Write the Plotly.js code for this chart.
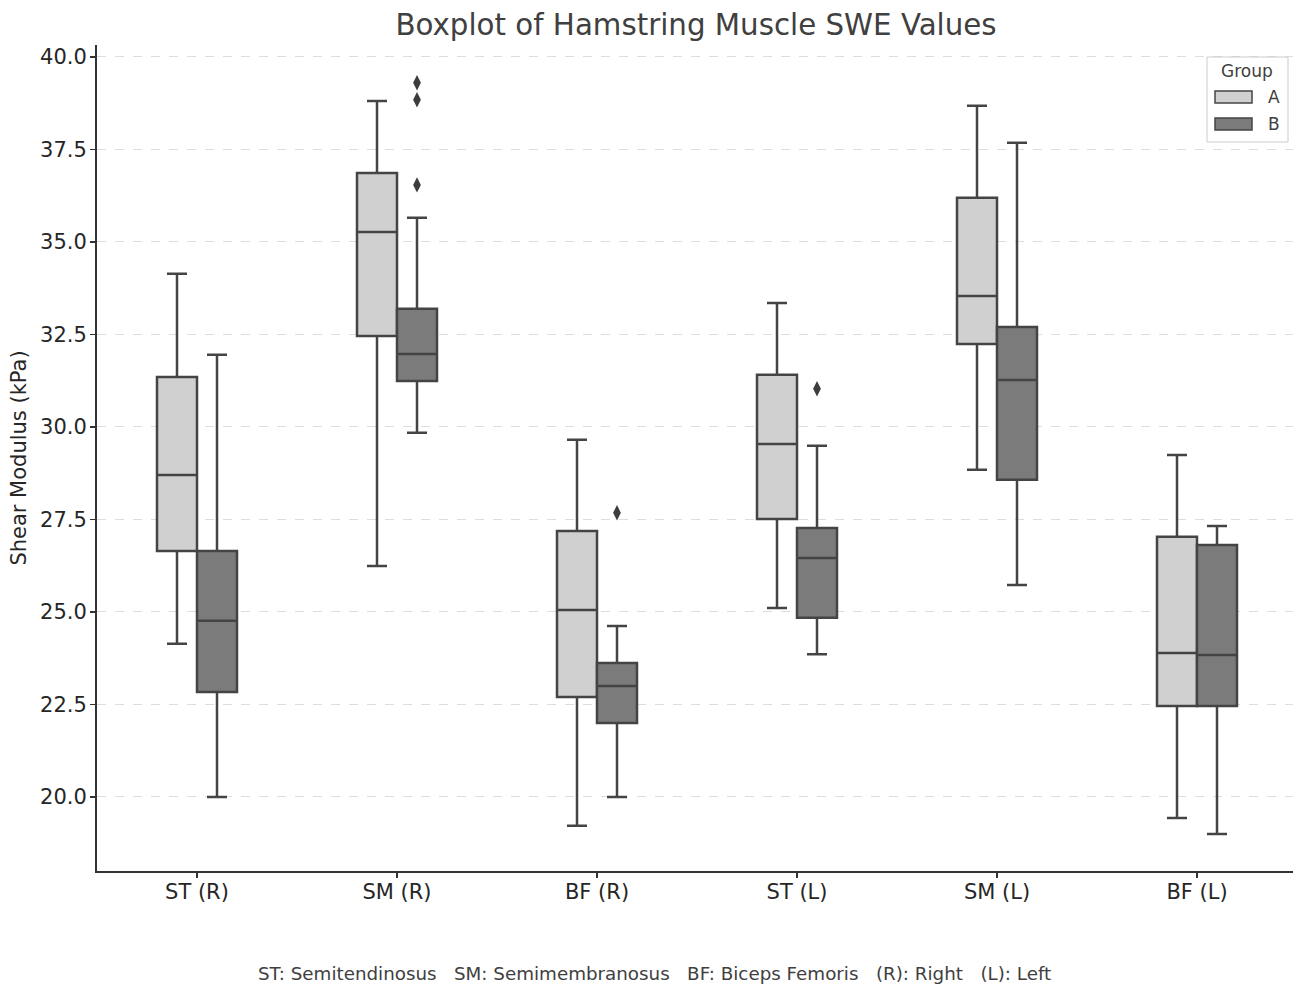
<!DOCTYPE html>
<html>
<head>
<meta charset="utf-8">
<script src="https://cdn.plot.ly/plotly-3.0.1.min.js"></script>
<style>html,body{margin:0;padding:0;background:#fff;}#chart{width:1293px;height:984px;}</style>
</head>
<body>
<div id="chart"></div>
<script>
const categories = ["ST (R)", "SM (R)", "BF (R)", "ST (L)", "SM (L)", "BF (L)"];
const groups = ["A", "B"];

const groupA_lower  = [24.14, 26.24, 19.22, 25.11, 28.84, 19.43];
const groupA_q1     = [26.65, 32.46, 22.70, 27.51, 32.24, 22.46];
const groupA_median = [28.70, 35.27, 25.05, 29.54, 33.54, 23.89];
const groupA_q3     = [31.35, 36.86, 27.19, 31.41, 36.19, 27.03];
const groupA_upper  = [34.14, 38.81, 29.65, 33.35, 38.68, 29.24];

const groupB_lower  = [20.00, 29.84, 20.00, 23.86, 25.73, 19.00];
const groupB_q1     = [22.84, 31.24, 22.00, 24.84, 28.57, 22.46];
const groupB_median = [24.76, 31.97, 23.00, 26.46, 31.27, 23.84];
const groupB_q3     = [26.65, 33.19, 23.62, 27.27, 32.70, 26.81];
const groupB_upper  = [31.95, 35.65, 24.62, 29.49, 37.68, 27.32];

// outliers of group B: category index and value
const outlierB_cat   = [1, 1, 1, 2, 3];
const outlierB_value = [39.30, 38.84, 36.54, 27.68, 31.03];

const yTicks = [20, 22.5, 25, 27.5, 30, 32.5, 35, 37.5, 40];

const OFFSET = 0.1, BOXW = 0.2;
const idx = categories.map((c, i) => i);
const lineCol = '#444444';
const colA = '#d0d0d0', colB = '#7b7b7b';
const font = 'DejaVu Sans, sans-serif';

const traceA = {
  type: 'box', name: groups[0], showlegend: false,
  x: idx.map(i => i - OFFSET),
  q1: groupA_q1, median: groupA_median, q3: groupA_q3,
  lowerfence: groupA_lower, upperfence: groupA_upper,
  width: BOXW, whiskerwidth: 0.5,
  fillcolor: colA,
  line: {color: lineCol, width: 2.5},
  boxpoints: false, hoverinfo: 'skip'
};
const traceB = {
  type: 'box', name: groups[1], showlegend: false,
  x: idx.map(i => i + OFFSET),
  q1: groupB_q1, median: groupB_median, q3: groupB_q3,
  lowerfence: groupB_lower, upperfence: groupB_upper,
  width: BOXW, whiskerwidth: 0.5,
  fillcolor: colB,
  line: {color: lineCol, width: 2.5},
  boxpoints: false, hoverinfo: 'skip'
};
const outB = {
  type: 'scatter', mode: 'markers', showlegend: false,
  x: outlierB_cat.map(i => i + OFFSET),
  y: outlierB_value,
  marker: {symbol: 'diamond-tall', size: 11, color: '#3d3d3d'},
  hoverinfo: 'skip'
};

// plot area in pixels, used to place the custom legend in paper coordinates
const M = {l: 97, r: 0, t: 45, b: 113};
const W = 1293, H = 984;
const PW = W - M.l - M.r, PH = H - M.t - M.b;
const px = v => (v - M.l) / PW;
const py = v => (H - M.b - v) / PH;

const shapes = [
  {type: 'rect', xref: 'paper', yref: 'paper', x0: px(1207), x1: px(1288), y0: py(142), y1: py(57),
   fillcolor: 'rgba(255,255,255,0.85)', line: {color: '#cccccc', width: 1}},
  {type: 'rect', xref: 'paper', yref: 'paper', x0: px(1215), x1: px(1252), y0: py(103), y1: py(91),
   fillcolor: colA, line: {color: lineCol, width: 1.5}},
  {type: 'rect', xref: 'paper', yref: 'paper', x0: px(1215), x1: px(1252), y0: py(130), y1: py(118),
   fillcolor: colB, line: {color: lineCol, width: 1.5}}
];

const annotations = [
  {text: 'Group', xref: 'paper', yref: 'paper', x: px(1247), y: py(71), xanchor: 'center', yanchor: 'middle',
   showarrow: false, font: {family: font, size: 17, color: '#404040'}},
  {text: groups[0], xref: 'paper', yref: 'paper', x: px(1266), y: py(97), xanchor: 'left', yanchor: 'middle',
   showarrow: false, font: {family: font, size: 17, color: '#404040'}},
  {text: groups[1], xref: 'paper', yref: 'paper', x: px(1266), y: py(124), xanchor: 'left', yanchor: 'middle',
   showarrow: false, font: {family: font, size: 17, color: '#404040'}},
  {text: 'ST: Semitendinosus   SM: Semimembranosus   BF: Biceps Femoris   (R): Right   (L): Left',
   xref: 'paper', yref: 'paper', x: px(654), y: py(973), xanchor: 'center', yanchor: 'middle',
   showarrow: false, font: {family: font, size: 18.3, color: '#404040'}}
];

const layout = {
  width: W, height: H,
  paper_bgcolor: '#ffffff', plot_bgcolor: '#ffffff',
  margin: M,
  font: {family: font, color: '#262626', size: 18},
  title: {text: 'Boxplot of Hamstring Muscle SWE Values', x: 696 / W, xanchor: 'center', y: 1 - 25 / H, yanchor: 'middle',
          font: {family: font, size: 29.3, color: '#404040'}},
  boxmode: 'overlay',
  showlegend: false,
  xaxis: {
    range: [-0.5, 5.48],
    tickmode: 'array', tickvals: idx, ticktext: categories,
    showgrid: false, zeroline: false,
    showline: true, linecolor: '#333333', linewidth: 2,
    ticks: 'outside', ticklen: 5, tickcolor: '#333333', tickwidth: 1.5,
    ticklabelstandoff: -4,
    tickfont: {family: font, size: 21, color: '#262626'}
  },
  yaxis: {
    range: [18.0, 40.32],
    tickmode: 'array', tickvals: yTicks,
    ticktext: yTicks.map(v => v.toFixed(1)),
    showgrid: true, gridcolor: '#dddddd', griddash: 'dash', gridwidth: 1,
    zeroline: false,
    showline: true, linecolor: '#333333', linewidth: 2,
    ticks: 'outside', ticklen: 5, tickcolor: '#333333', tickwidth: 1.5,
    ticklabelstandoff: -1,
    tickfont: {family: font, size: 21, color: '#262626'},
    title: {text: 'Shear Modulus (kPa)', standoff: 8, font: {family: font, size: 21, color: '#262626'}}
  },
  shapes: shapes,
  annotations: annotations
};

Plotly.newPlot('chart', [traceA, traceB, outB], layout, {displayModeBar: false, staticPlot: true});
</script>
</body>
</html>
